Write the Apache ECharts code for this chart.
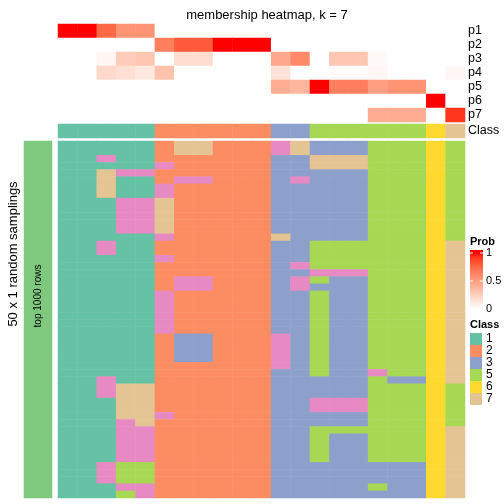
<!DOCTYPE html>
<html><head><meta charset="utf-8">
<script src="https://cdn.jsdelivr.net/npm/echarts@6/dist/echarts.min.js"></script>
<style>html,body{margin:0;padding:0;background:#fff}#c{width:504px;height:504px}</style>
</head><body><div id="c"></div>
<script>
// ---- data ----
const sampleIds = Array.from({length: 21}, (_, i) => 'S' + (i + 1));
const probRowNames = ['p1','p2','p3','p4','p5','p6','p7'];
const p1 = [1,1,0.75,0.55,0.55,0,0,0,0,0,0,0,0,0,0,0,0,0,0,0,0];
const p2 = [0,0,0,0,0,0.65,0.8,0.8,1,1,1,0,0,0,0,0,0,0,0,0,0];
const p3 = [0,0,0.05,0.27,0.3,0,0.18,0.18,0,0,0,0.45,0.6,0,0.3,0.3,0.03,0,0,0,0];
const p4 = [0,0,0.2,0.17,0.12,0.32,0,0,0,0,0,0.15,0,0,0.02,0.02,0.04,0,0,0,0.04];
const p5 = [0,0,0,0,0,0,0,0,0,0,0,0.42,0.38,1,0.65,0.65,0.5,0.55,0.55,0,0];
const p6 = [0,0,0,0,0,0,0,0,0,0,0,0,0,0,0,0,0,0,0,1,0];
const p7 = [0,0,0,0,0,0,0,0,0,0,0,0,0,0,0,0,0.43,0.43,0.43,0,0.92];
const sampleClass = [1,1,1,1,1,2,2,2,2,2,2,3,3,5,5,5,5,5,5,6,7];
// 50 random samplings x 21 samples (class per cell)
const samplingRows = [
 '111112772224733355565',
 '111112772224733355565',
 '114112222223377755565',
 '111114222223377755565',
 '117442222223333355565',
 '117112442223433355565',
 '117114222223333355565',
 '117114222223333355565',
 '111447222223333355565',
 '111447222223333355565',
 '111447222223333355565',
 '111447222223333355565',
 '111447222223333355565',
 '111114222227333355565',
 '114112222223355555567',
 '114112222223355555567',
 '111114222223355555567',
 '111112222223455555567',
 '111112222223344455567',
 '111112442223453355567',
 '111112442223433355567',
 '111114222223353355567',
 '111114222223353355567',
 '111114222223353355567',
 '111114222223353355567',
 '111114222223353355567',
 '111114222223353355567',
 '111112332224353355567',
 '111112332224353355567',
 '111112332224353355567',
 '111112332224353355567',
 '111112222224353355567',
 '111112222223353345567',
 '114112222223333353367',
 '114772222223333355565',
 '114772222223333355565',
 '111772222223344455565',
 '111772222223344455565',
 '111774222223333355565',
 '111472222223333355565',
 '111442222223355555567',
 '111442222223353355567',
 '111442222223353355567',
 '111442222223353355567',
 '111442222223353355567',
 '114552222223333333367',
 '114552222223333333367',
 '114552222223333333367',
 '111442222223333353367',
 '111542222223333333367'
];
const classLegend = ['1','2','3','5','6','7'];

// ---- styling helpers ----
const classColors = {1:'#66C2A5',2:'#FC8D62',3:'#8DA0CB',4:'#E78AC3',5:'#A6D854',6:'#FFD92F',7:'#E5C494',8:'#7FC97F'};
function labWhiteRed(t){
  const L = 100 + (53.2408 - 100) * t, A = 80.0925 * t, B = 67.2032 * t;
  const fy = (L + 16) / 116, fx = fy + A / 500, fz = fy - B / 200;
  const f = v => v ** 3 > 0.008856 ? v ** 3 : (v - 16 / 116) / 7.787;
  const X = 0.95047 * f(fx), Y = f(fy), Z = 1.08883 * f(fz);
  let r = 3.2406*X - 1.5372*Y - 0.4986*Z, g = -0.9689*X + 1.8758*Y + 0.0415*Z, b = 0.0557*X - 0.2040*Y + 1.0570*Z;
  const gam = v => { v = Math.max(0, Math.min(1, v)); return Math.round(255 * (v <= 0.0031308 ? 12.92*v : 1.055*Math.pow(v,1/2.4) - 0.055)); };
  return 'rgb(' + gam(r) + ',' + gam(g) + ',' + gam(b) + ')';
}
const rampStops = Array.from({length: 21}, (_, i) => labWhiteRed(i / 20));

// ---- series data built from arrays ----
const probArrays = [p1,p2,p3,p4,p5,p6,p7];
const probData = [];
probArrays.forEach((arr, r) => arr.forEach((v, c) => probData.push([c, r, v])));
const classData = sampleClass.map((v, c) => [c, 0, v]);
const mainData = [];
samplingRows.forEach((s, r) => s.split('').forEach((ch, c) => mainData.push([c, r, +ch])));
const mainRowIds = samplingRows.map((_, i) => 'r' + (i + 1));

const FONT = 'Liberation Sans, Arial, Helvetica, sans-serif';
const hidden = {show:false};
function catX(gi, data){ return {type:'category', gridIndex:gi, data, axisLine:hidden, axisTick:hidden, axisLabel:hidden, splitLine:hidden}; }
function catY(gi, data, showLabel){
  return {type:'category', gridIndex:gi, data, inverse:true, position:'right', axisLine:hidden, axisTick:hidden, splitLine:hidden,
    axisLabel: showLabel ? {show:true, interval:0, color:'#000', fontSize:12.5, fontFamily:FONT, margin:3} : hidden};
}
const hmSeries = (xi, data) => ({type:'heatmap', xAxisIndex:xi, yAxisIndex:xi, data, emphasis:{disabled:true}, itemStyle:{borderWidth:0}, progressive:0, animation:false});

const legendGraphics = [
  {type:'text', left:470, top:236, style:{text:'Prob', font:'bold 11px ' + FONT, fill:'#000'}},
  {type:'rect', shape:{x:470, y:250, width:13, height:59}, style:{fill:{type:'linear', x:0, y:0, x2:0, y2:1,
     colorStops: rampStops.map((c, i) => ({offset: (i / 20) * (56/59) + 3/59, color: rampStops[20 - i]})).concat([{offset:0, color:rampStops[20]}]).sort((a,b)=>a.offset-b.offset)}}},
  {type:'line', shape:{x1:470, y1:253, x2:473, y2:253}, style:{stroke:'#fff', lineWidth:1}},
  {type:'line', shape:{x1:480, y1:253, x2:483, y2:253}, style:{stroke:'#fff', lineWidth:1}},
  {type:'line', shape:{x1:470, y1:281, x2:473, y2:281}, style:{stroke:'#fff', lineWidth:1}},
  {type:'line', shape:{x1:480, y1:281, x2:483, y2:281}, style:{stroke:'#fff', lineWidth:1}},
  {type:'text', x:486, y:253, style:{text:'1', font:'11px ' + FONT, fill:'#000', verticalAlign:'middle'}},
  {type:'text', x:486, y:281, style:{text:'0.5', font:'11px ' + FONT, fill:'#000', verticalAlign:'middle'}},
  {type:'text', x:486, y:309, style:{text:'0', font:'11px ' + FONT, fill:'#000', verticalAlign:'middle'}},
  {type:'text', x:470, y:325, style:{text:'Class', font:'bold 11px ' + FONT, fill:'#000', verticalAlign:'middle'}}
];
classLegend.forEach((k, i) => {
  legendGraphics.push({type:'rect', shape:{x:470, y:333 + 12*i, width:12, height:12}, style:{fill:classColors[+k]}});
  legendGraphics.push({type:'text', x:486, y:339 + 12*i, style:{text:k, font:'12px ' + FONT, fill:'#000', verticalAlign:'middle'}});
});

const option = {
  animation:false,
  backgroundColor:'#fff',
  title:{text:'membership heatmap, k = 7', left:262, top:4, textAlign:'center',
    textStyle:{fontSize:13, fontWeight:'normal', color:'#000', fontFamily:FONT}},
  grid:[
    {left:58, top:24, width:407, height:98},
    {left:58, top:124, width:407, height:14},
    {left:58, top:141, width:407, height:357},
    {left:24, top:141, width:28, height:357}
  ],
  xAxis:[catX(0, sampleIds), catX(1, sampleIds), catX(2, sampleIds), catX(3, ['bar'])],
  yAxis:[catY(0, probRowNames, true), catY(1, ['Class'], true), catY(2, mainRowIds, false), catY(3, ['bar'], false)],
  visualMap:[
    {type:'continuous', min:0, max:1, dimension:2, seriesIndex:0, show:false, inRange:{color:rampStops}},
    {type:'piecewise', dimension:2, seriesIndex:[1,2,3], show:false,
      pieces:Object.keys(classColors).map(k => ({value:+k, color:classColors[k]}))}
  ],
  series:[hmSeries(0, probData), hmSeries(1, classData), hmSeries(2, mainData), hmSeries(3, [[0,0,8]])],
  graphic:[
    {type:'text', x:13, y:254, rotation:Math.PI/2, z:100, style:{text:'50 x 1 random samplings', font:'13px ' + FONT, fill:'#000', align:'center', verticalAlign:'middle'}},
    {type:'text', x:38, y:296, rotation:Math.PI/2, z:100, style:{text:'top 1000 rows', font:'10px ' + FONT, fill:'#000', align:'center', verticalAlign:'middle'}}
  ].concat(legendGraphics.map(g => Object.assign({z:100}, g)))
};
const chart = echarts.init(document.getElementById('c'), null, {renderer:'canvas'});
chart.setOption(option);
</script></body></html>
